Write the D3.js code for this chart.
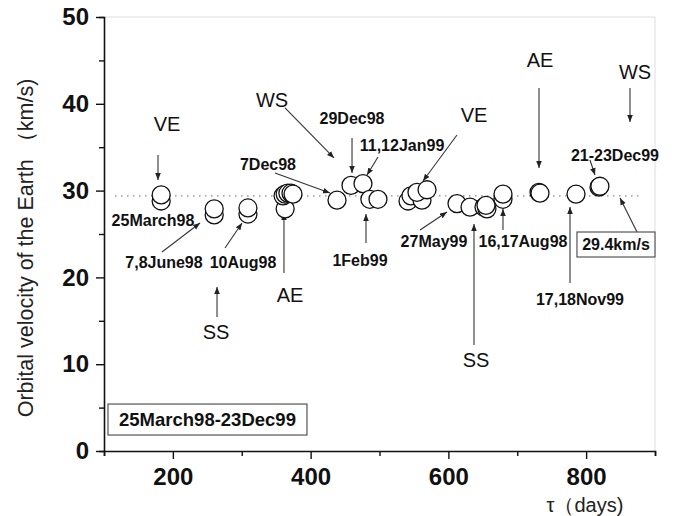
<!DOCTYPE html>
<html>
<head>
<meta charset="utf-8">
<script src="https://cdn.jsdelivr.net/npm/d3@7"></script>
<style>
body { margin: 0; background: #fff; }
text { font-family: "Liberation Sans", Arial, sans-serif; }
</style>
</head>
<body>
<script>
// days since start, orbital velocity (km/s)
var days = [183, 183, 260, 260, 309, 309, 363, 360, 363, 367, 371.5, 374.4, 438.3, 458.6, 476, 486, 497.8,
    541.4, 545.7, 561.7, 554.4, 569, 612.5, 631.4, 651.7, 656, 654.6, 679.3, 679.3, 731.6, 733, 785.3, 818.7, 820];
var velocity = [28.8, 29.5, 27.2, 27.9, 27.3, 28.0, 27.9, 29.4, 29.6, 29.7, 29.7, 29.6, 28.9, 30.6, 30.8, 29.0, 29.0,
    28.8, 29.4, 28.9, 29.8, 30.1, 28.5, 28.1, 28.1, 27.9, 28.3, 29.0, 29.6, 29.8, 29.7, 29.6, 30.4, 30.5];
var meanVelocity = 29.4;
var xTicks = [200, 400, 600, 800];
var xMinor = [100, 300, 500, 700, 900];
var yTicks = [0, 10, 20, 30, 40, 50];
var yMinor = [5, 15, 25, 35, 45];

// labels: text, x (days), y (km/s), bold
var labels = [
    ["WS", 343.9, 40.44, false], ["29Dec98", 460.1, 38.36, true], ["VE", 191.5, 37.67, false],
    ["7Dec98", 338.1, 32.95, true], ["25March98", 171.1, 26.61, true], ["7,8June98", 187.1, 21.77, true],
    ["10Aug98", 301.8, 21.77, true], ["SS", 262.6, 13.71, false], ["AE", 370.1, 17.97, false],
    ["1Feb99", 471.7, 22.0, true], ["11,12Jan99", 532.7, 35.25, true], ["VE", 637.2, 38.71, false],
    ["27May99", 579.1, 24.19, true], ["SS", 640.1, 10.48, false], ["16,17Aug98", 708.3, 24.19, true],
    ["AE", 733.0, 45.05, false], ["17,18Nov99", 791.1, 17.4, true], ["WS", 871.0, 43.66, false],
    ["21-23Dec99", 841.9, 34.1, true]
];
// arrows: x1, y1 -> x2, y2 (data units)
var arrows = [
    [362.8, 39.52, 433.9, 33.76], [460.1, 36.06, 460.1, 32.03], [178.4, 34.1, 178.4, 31.22],
    [348.3, 32.03, 428.1, 29.72], [184.2, 22.93, 239.4, 26.27], [275.7, 23.39, 300.4, 26.27],
    [264.1, 15.44, 264.1, 18.89], [361.3, 20.51, 361.3, 27.42], [480.4, 23.96, 480.4, 27.3],
    [497.8, 33.87, 481.9, 31.8], [612.5, 36.41, 563.2, 31.11], [558.8, 25.46, 598.0, 27.53],
    [637.2, 12.21, 637.2, 26.15], [679.3, 25.46, 679.3, 27.88], [731.6, 41.82, 731.6, 32.6],
    [776.6, 19.35, 776.6, 28.11], [863.7, 41.82, 863.7, 37.9], [805.6, 33.53, 812.9, 31.8],
    [873.9, 25.23, 849.2, 29.15]
];

var W = 678, H = 516;
var margin = {top: 17, right: 23, bottom: 65, left: 104};
var width = W - margin.left - margin.right,
    height = H - margin.top - margin.bottom;

var x = d3.scaleLinear().domain([100, 900]).range([0, width]);
var y = d3.scaleLinear().domain([0, 50]).range([height, 0]);

var root = d3.select("body").append("svg").attr("width", W).attr("height", H);
root.append("defs").append("marker")
    .attr("id", "head").attr("viewBox", "0 0 10 10")
    .attr("refX", 10).attr("refY", 5)
    .attr("markerWidth", 7).attr("markerHeight", 7)
    .attr("markerUnits", "userSpaceOnUse")
    .attr("orient", "auto")
    .append("path").attr("d", "M0,1 L10,5 L0,9 z").attr("fill", "#222");

var svg = root.append("g").attr("transform", "translate(" + margin.left + "," + margin.top + ")");

// light frame top/right
svg.append("path")
    .attr("d", "M0,0 H" + width + " V" + height)
    .attr("fill", "none").attr("stroke", "#ddd").attr("stroke-width", 1);

// dotted mean line
svg.append("line")
    .attr("x1", x(116)).attr("x2", x(878))
    .attr("y1", y(meanVelocity)).attr("y2", y(meanVelocity))
    .attr("stroke", "#888").attr("stroke-width", 1.2).attr("stroke-dasharray", "1.5,4.5");

// axes
var gx = svg.append("g").attr("transform", "translate(0," + height + ")");
gx.call(d3.axisBottom(x).tickValues(xMinor).tickSize(5).tickFormat(""));
gx.append("g").call(d3.axisBottom(x).tickValues(xTicks).tickSize(8).tickPadding(9).tickFormat(d3.format("d")));
var gy = svg.append("g");
gy.call(d3.axisLeft(y).tickValues(yMinor).tickSize(5).tickFormat(""));
gy.append("g").call(d3.axisLeft(y).tickValues(yTicks).tickSize(8).tickPadding(7).tickFormat(d3.format("d")));
svg.selectAll(".domain").attr("stroke", "#111").attr("stroke-width", 1.6);
svg.selectAll(".tick line").attr("stroke", "#111").attr("stroke-width", 1.4);
svg.selectAll(".tick text").attr("fill", "#111")
    .style("font-size", "24px").style("font-weight", "bold")
    .style("font-family", "'Liberation Sans', Arial, sans-serif");
gx.selectAll(".domain").filter(function (d, i) { return i > 0; }).remove();
gy.selectAll(".domain").filter(function (d, i) { return i > 0; }).remove();

// axis titles
svg.append("text")
    .attr("transform", "translate(" + (26 - margin.left) + "," + (231) + ") rotate(-90)")
    .attr("text-anchor", "middle").attr("dominant-baseline", "central")
    .style("font-size", "21.5px").attr("fill", "#222")
    .text("Orbital velocity of the Earth （km/s)");
svg.append("text")
    .attr("x", 585 - margin.left).attr("y", 505 - margin.top)
    .attr("text-anchor", "middle").attr("dominant-baseline", "central")
    .style("font-size", "20px").attr("fill", "#222")
    .text("τ（days)");

// arrows
svg.selectAll(".arrow").data(arrows).enter().append("line")
    .attr("class", "arrow")
    .attr("x1", function (d) { return x(d[0]); }).attr("y1", function (d) { return y(d[1]); })
    .attr("x2", function (d) { return x(d[2]); }).attr("y2", function (d) { return y(d[3]); })
    .attr("stroke", "#333").attr("stroke-width", 1.1)
    .attr("marker-end", "url(#head)");

// data circles
var pts = days.map(function (d, i) { return {day: d, v: velocity[i]}; });
svg.selectAll(".pt").data(pts).enter().append("circle")
    .attr("class", "pt")
    .attr("cx", function (d) { return x(d.day); })
    .attr("cy", function (d) { return y(d.v); })
    .attr("r", 9)
    .attr("fill", "#fff").attr("stroke", "#111").attr("stroke-width", 1.3);

// labels
svg.selectAll(".lab").data(labels).enter().append("text")
    .attr("class", "lab")
    .attr("x", function (d) { return x(d[1]); }).attr("y", function (d) { return y(d[2]); })
    .attr("text-anchor", "middle").attr("dominant-baseline", "central")
    .style("font-size", function (d) { return d[3] ? "16px" : "20px"; })
    .style("font-weight", function (d) { return d[3] ? "bold" : "normal"; })
    .attr("fill", "#111")
    .text(function (d) { return d[0]; });

// boxed notes
function box(txt, x0, x1, y0, y1, size) {
    svg.append("rect")
        .attr("x", x(x0)).attr("y", y(y0))
        .attr("width", x(x1) - x(x0)).attr("height", y(y1) - y(y0))
        .attr("fill", "#fff").attr("stroke", "#555").attr("stroke-width", 1.2);
    svg.append("text")
        .attr("x", (x(x0) + x(x1)) / 2).attr("y", (y(y0) + y(y1)) / 2)
        .attr("text-anchor", "middle").attr("dominant-baseline", "central")
        .style("font-size", size).style("font-weight", "bold").attr("fill", "#111")
        .text(txt);
}
box("29.4km/s", 786.7, 900, 25.23, 22.35, "16px");
box("25March98-23Dec99", 105.8, 394.7, 5.41, 1.84, "18.5px");
</script>
</body>
</html>
